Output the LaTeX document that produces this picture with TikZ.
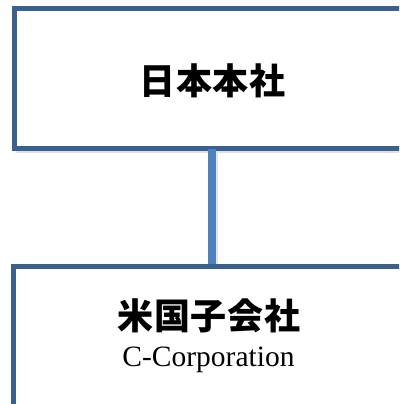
\documentclass[tikz,border=0pt]{standalone}
\usepackage{fontspec}
\setmainfont{Liberation Serif}
\newfontfamily\cjk[LetterSpace=1.5]{Noto Sans CJK JP}
\definecolor{boxline}{RGB}{58,96,143}
\definecolor{linkline}{RGB}{79,129,189}
\begin{document}
\begin{tikzpicture}[x=1pt,y=1pt,
  orgbox/.style={draw=boxline,line width=5pt,fill=white},
  link/.style={draw=linkline,line width=8pt},
  shadowline/.style={draw=black!12,line width=5pt}]
\useasboundingbox (0,0) rectangle (399,404);
\clip (0,0) rectangle (399,404);
% shadows
\draw[shadowline] (16,253.5) -- (420,253.5);
\draw[black!10,line width=8pt] (214,253) -- (214,137);
% top box
\draw[orgbox] (14.7,395.3) rectangle (430,255.3);
% connector
\coordinate (ltop) at (212,255.3);
\coordinate (lbot) at (212,137.5);
\draw[link] (ltop) -- (lbot);
% bottom box
\draw[orgbox] (13.7,137.5) rectangle (430,-4);
% texts
\node (jp) at (212.5,323.5) {\cjk\bfseries\fontsize{36}{40}\selectfont 日本本社};
\node (us) at (209,88) {\cjk\bfseries\fontsize{36}{40}\selectfont 米国子会社};
\node[anchor=base] (cc) at (208.5,37) {\fontsize{29.5}{34}\selectfont C-Corporation};
\end{tikzpicture}
\end{document}
